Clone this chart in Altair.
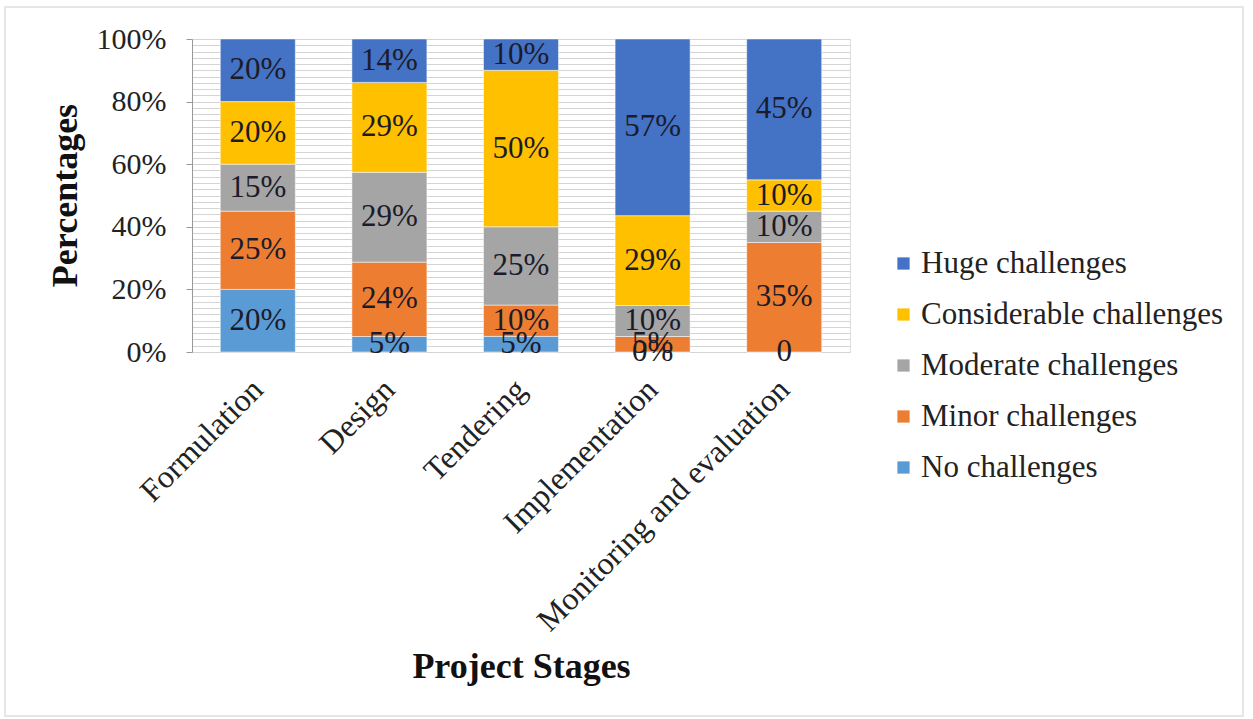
import altair as alt
import pandas as pd

stages = ["Formulation", "Design", "Tendering", "Implementation", "Monitoring and evaluation"]
levels = ["No challenges", "Minor challenges", "Moderate challenges", "Considerable challenges", "Huge challenges"]
colors = ["#5B9BD5", "#ED7D31", "#A5A5A5", "#FFC000", "#4472C4"]

no_ch = [20, 5, 5, 0, 0]
minor = [25, 24, 10, 5, 35]
moderate = [15, 29, 25, 10, 10]
considerable = [20, 29, 50, 29, 10]
huge = [20, 14, 10, 57, 45]

labels_no = ["20%", "5%", "5%", "0%", "0"]
labels_minor = ["25%", "24%", "10%", "5%", "35%"]
labels_moderate = ["15%", "29%", "25%", "10%", "10%"]
labels_considerable = ["20%", "29%", "50%", "29%", "10%"]
labels_huge = ["20%", "14%", "10%", "57%", "45%"]

y_ticks = [0, 0.1, 0.2, 0.3, 0.4, 0.5, 0.6, 0.7, 0.8, 0.9, 1.0]
grid_vals = [i / 50 for i in range(51)]

series = [no_ch, minor, moderate, considerable, huge]
label_sets = [labels_no, labels_minor, labels_moderate, labels_considerable, labels_huge]
rows = []
for r, (lvl, vals, labs) in enumerate(zip(levels, series, label_sets)):
    for s, v, lab in zip(stages, vals, labs):
        rows.append({"stage": s, "level": lvl, "value": v, "rank": r, "label": lab})
df = pd.DataFrame(rows)

FONT = "Liberation Serif"
PLOT_W, PLOT_H = 658, 313

base = alt.Chart(df).transform_stack(
    stack="value", groupby=["stage"], sort=[alt.SortField("rank", order="ascending")],
    as_=["y0", "y1"], offset="normalize"
).transform_calculate(mid="(datum.y0 + datum.y1) / 2")

x_enc = alt.X("stage:N", sort=stages,
              scale=alt.Scale(paddingInner=0.43, paddingOuter=0.215),
              axis=alt.Axis(title="Project Stages", labelAngle=-45, labelFont=FONT,
                            labelFontSize=32, labelColor="#222", labelPadding=32,
                            labelLimit=0, labelOverlap=False,
                            ticks=False, domain=False, titleFont=FONT, titleFontSize=36,
                            titleFontWeight="bold", titleColor="#111", titleY=297,
                            titleBaseline="top"))

bars = base.mark_bar(stroke="white", strokeWidth=0.5).encode(
    x=x_enc,
    y=alt.Y("y0:Q", scale=alt.Scale(domain=[0, 1]),
            axis=alt.Axis(title="Percentages", values=y_ticks, format=".0%", grid=False,
                          labelFont=FONT, labelFontSize=30, labelColor="#222",
                          labelOverlap=False,
                          tickSize=6, tickColor="#999", domainColor="#999", labelPadding=20,
                          titleFont=FONT, titleFontSize=36, titleFontWeight="bold",
                          titleColor="#111", titleX=-127, titleY=156,
                          titleBaseline="middle", titleAngle=-90)),
    y2="y1:Q",
    color=alt.Color("level:N", scale=alt.Scale(domain=levels, range=colors),
                    sort=levels[::-1],
                    legend=alt.Legend(title=None, orient="none", legendX=696, legendY=209,
                                      labelFont=FONT, labelFontSize=31, labelColor="#222",
                                      labelLimit=0,
                                      symbolType="square", symbolSize=150,
                                      symbolStrokeWidth=0, rowPadding=19, padding=0,
                                      labelOffset=2, values=levels[::-1])),
    order=alt.Order("rank:Q", sort="ascending"),
)

texts = base.mark_text(font=FONT, fontSize=31, color="#1b1b2a").encode(
    x=alt.X("stage:N", sort=stages),
    y=alt.Y("mid:Q"),
    text="label:N",
)

grid = base.mark_point(opacity=0).encode(
    x=alt.X("stage:N", sort=stages),
    y=alt.Y("y1:Q", scale=alt.Scale(domain=[0, 1]),
            axis=alt.Axis(orient="right", grid=True, values=grid_vals, labels=False,
                          ticks=False, domain=False, title=None, gridColor="#d4d4d4",
                          gridWidth=1)),
)

border = alt.Chart(pd.DataFrame({"a": [0]})).mark_rect(
    fill=None, stroke="#e6e6e6", strokeWidth=2
).encode(x=alt.value(-187), x2=alt.value(1243 - 192), y=alt.value(-32), y2=alt.value(716 - 39))

chart = alt.layer(grid, alt.layer(bars, texts), border).resolve_scale(y="independent").properties(
    width=PLOT_W, height=PLOT_H,
    autosize=alt.AutoSizeParams(type="none"),
    padding={"left": 192, "top": 39, "right": 1253 - 192 - PLOT_W, "bottom": 719 - 39 - PLOT_H},
).configure_view(stroke=None).configure(background="white")

chart.save("out.html", embed_options={"renderer": "svg", "actions": False})
